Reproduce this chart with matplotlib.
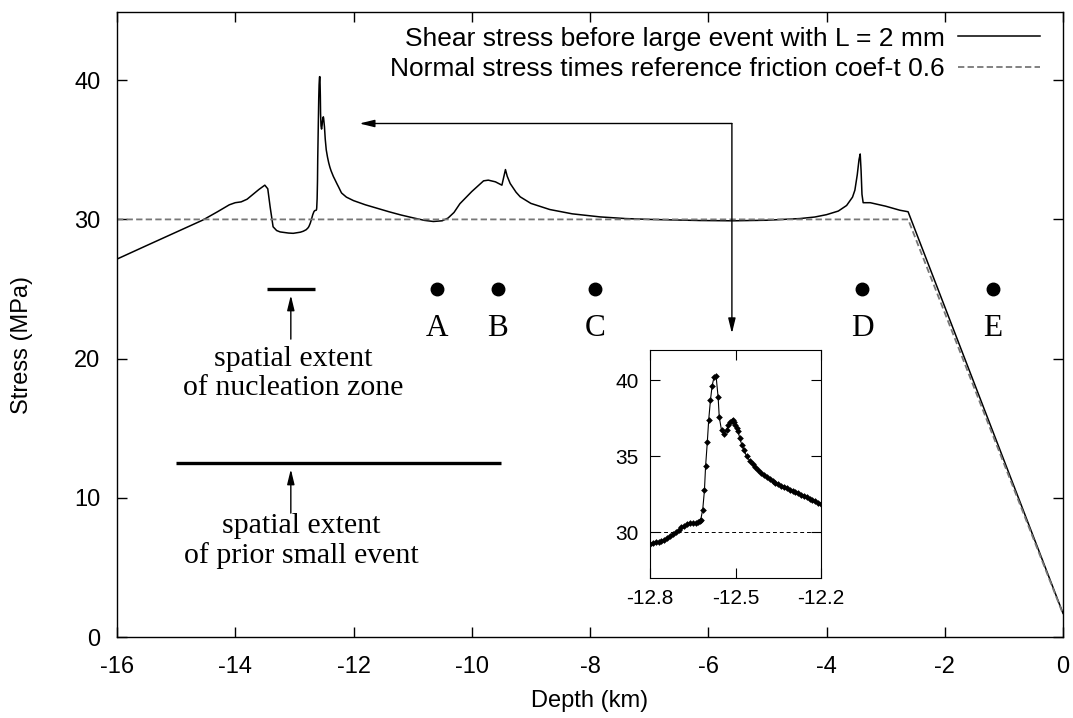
"""Plot shear stress and reference frictional strength along depth."""

import matplotlib.pyplot as plt

# shear stress before the large event (depth in km, stress in MPa)
depth = [
    -16.0, -15.5, -15.0, -14.55, -14.3, -14.1, -14.0, -13.9, -13.8, -13.7,
    -13.6, -13.5, -13.45, -13.41, -13.36, -13.3, -13.24, -13.1, -13.02,
    -12.9, -12.85,
    -12.80, -12.79, -12.78, -12.77, -12.76, -12.75, -12.74, -12.73, -12.72,
    -12.71, -12.70, -12.69, -12.68, -12.67, -12.66, -12.65, -12.64, -12.63,
    -12.625, -12.622, -12.615, -12.609, -12.605, -12.599, -12.594, -12.588,
    -12.582, -12.575, -12.568, -12.561, -12.557, -12.549, -12.540, -12.531,
    -12.525, -12.519, -12.514, -12.510, -12.505, -12.501, -12.496, -12.491,
    -12.485, -12.478, -12.47, -12.461,
    -12.45, -12.44, -12.43, -12.42, -12.41, -12.40, -12.39, -12.38, -12.37,
    -12.36, -12.35, -12.34, -12.33, -12.32, -12.31, -12.30, -12.29, -12.28,
    -12.27, -12.26, -12.25, -12.24, -12.23, -12.22, -12.21, -12.20,
    -12.12, -12.0, -11.8, -11.6, -11.4, -11.2, -11.0, -10.8, -10.65, -10.5,
    -10.4, -10.3, -10.2, -10.0, -9.8, -9.72, -9.6, -9.49, -9.45, -9.43,
    -9.4, -9.35, -9.25, -9.18, -9.0, -8.68, -8.3, -7.83, -7.4, -6.99,
    -6.14, -5.58, -5.01, -4.45, -4.2, -4.0, -3.8, -3.66, -3.56, -3.52,
    -3.48, -3.45, -3.43, -3.415, -3.40, -3.38, -3.26, -3.0, -2.76, -2.62,
    0.0]
shear = [
    27.15, 28.12, 29.08, 29.95, 30.55, 31.05, 31.2, 31.26, 31.45, 31.8,
    32.15, 32.46, 32.2, 30.9, 29.47, 29.2, 29.1, 29.02, 29.0,
    29.08, 29.15,
    29.26, 29.30, 29.34, 29.39, 29.45, 29.53, 29.63, 29.74, 29.87,
    30.02, 30.18, 30.33, 30.45, 30.55, 30.61, 30.64, 30.65, 30.66,
    30.72, 30.84, 31.5, 32.76, 34.34, 35.92, 37.41, 38.68,
    39.65, 40.24, 40.26, 38.9, 37.59, 36.71, 36.49, 36.76,
    37.05, 37.24, 37.33, 37.37, 37.25, 37.09, 36.9, 36.65,
    36.2, 35.77, 35.4, 35.0,
    34.72, 34.48, 34.27, 34.08, 33.91, 33.76, 33.62, 33.50, 33.39,
    33.28, 33.17, 33.08, 33.0, 32.91, 32.82, 32.73, 32.64, 32.56,
    32.48, 32.40, 32.31, 32.22, 32.12, 32.04, 31.96, 31.89,
    31.6, 31.35, 31.05, 30.8, 30.55, 30.32, 30.12, 29.93, 29.85, 29.9,
    30.1, 30.5, 31.13, 32.0, 32.77, 32.82, 32.7, 32.46, 33.2, 33.58,
    33.1, 32.58, 31.95, 31.62, 31.15, 30.71, 30.4, 30.18, 30.06, 30.0,
    29.92, 29.9, 29.94, 30.06, 30.17, 30.34, 30.6, 31.0, 31.6, 32.1,
    33.2, 34.3, 34.7, 33.5, 31.8, 31.2, 31.2, 30.95, 30.66, 30.55,
    1.7]

# normal stress times reference friction coefficient
normal_depth = [-16.0, -2.62, 0.0]
normal_stress = [30.0, 30.0, 1.65]

# observation points
point_names = ['A', 'B', 'C', 'D', 'E']
point_depth = [-10.59, -9.56, -7.92, -3.40, -1.19]
point_stress = 25.0

# spatial extents (km)
nucleation = [-13.46, -12.65]
prior_event = [-15.0, -9.51]

SANS = 'Liberation Sans'
SERIF = 'Liberation Serif'


def main():
    """Main program called during execution."""

    # initialize figure
    plt.rcParams['font.family'] = SANS
    plt.rcParams['axes.unicode_minus'] = False
    fig = plt.figure(figsize=(10.73, 7.18), dpi=100)
    ax = fig.add_axes([117/1073, 81/718, 946/1073, 625/718])
    ins = fig.add_axes([650/1073, 140/718, 171/1073, 228/718])

    # plot stress profiles
    ax.plot(depth, shear, color='k', lw=1.1,
            label='Shear stress before large event with L = 2 mm')
    ax.plot(normal_depth, normal_stress, color='#777777', lw=1.3,
            dashes=(3.5, 1.8),
            label='Normal stress times reference friction coef-t 0.6')

    # mark observation points
    ax.plot(point_depth, [point_stress]*len(point_depth), 'o', color='k',
            ms=9)
    for name, x in zip(point_names, point_depth):
        ax.text(x, 21.6, name, ha='center', va='baseline', family=SERIF,
                fontsize=22.5)

    # mark spatial extents (text anchored on the baseline of its last line)
    arrow = dict(arrowstyle='-|>,head_length=0.9,head_width=0.22',
                 color='k', lw=1.0, shrinkA=0, shrinkB=0)
    for extent, level, xtext, ytext, text in (
            (nucleation, 25.0, -13.02, 17.38,
             'spatial extent\nof nucleation zone'),
            (prior_event, 12.5, -12.89, 5.29,
             'spatial extent\nof prior small event')):
        ax.plot(extent, [level, level], color='k', lw=2.4,
                solid_capstyle='butt')
        ax.annotate('', xy=(-13.06, level - 0.45),
                    xytext=(-13.06, level - 3.6), arrowprops=arrow)
        ax.text(xtext, ytext, text, ha='center', va='baseline',
                family=SERIF, fontsize=21.5, linespacing=1.15)

    # bent arrow pointing to the inset
    ax.annotate('', xy=(-11.90, 36.89), xytext=(-5.60, 36.89),
                arrowprops=arrow)
    ax.annotate('', xy=(-5.60, 21.81), xytext=(-5.60, 36.89),
                arrowprops=arrow)

    # set axes properties
    ax.set_xlim(-16, 0)
    ax.set_ylim(0, 44.9)
    ax.set_xticks(range(-16, 1, 2))
    ax.set_yticks(range(0, 41, 10))
    ax.tick_params(direction='in', length=7.5, width=1.0, top=True,
                   right=True, labelsize=17)
    ax.tick_params(axis='x', pad=13.5)
    ax.tick_params(axis='y', pad=12)
    for spine in ax.spines.values():
        spine.set_linewidth(1.0)
    ax.set_xlabel('Depth (km)', fontsize=17)
    ax.set_ylabel('Stress (MPa)', fontsize=17)
    ax.xaxis.set_label_coords(0.5, -0.085)
    ax.yaxis.set_label_coords(-0.089, 0.467)
    ax.legend(loc='upper right', frameon=False, markerfirst=False,
              fontsize=19, handlelength=3.1, handletextpad=0.5,
              labelspacing=0.24, borderaxespad=0.3,
              bbox_to_anchor=(0.995, 1.006))

    # plot inset
    ins.plot(depth, shear, color='k', lw=0.8, marker='D', ms=3.4, mew=0)
    ins.axhline(30, color='k', lw=0.7, dashes=(4, 3))
    ins.set_xlim(-12.8, -12.2)
    ins.set_ylim(27, 42)
    ins.set_xticks([-12.8, -12.5, -12.2])
    ins.set_xticklabels(['-12.8', '-12.5', '-12.2'])
    ins.set_yticks([30, 35, 40])
    ins.tick_params(direction='in', length=7, width=0.8, top=True,
                    right=True, labelsize=15)
    ins.tick_params(axis='x', pad=8)
    ins.tick_params(axis='y', pad=8)
    for spine in ins.spines.values():
        spine.set_linewidth(0.8)

    # save figure
    fig.savefig('out.png', dpi=100)


if __name__ == '__main__':
    main()
